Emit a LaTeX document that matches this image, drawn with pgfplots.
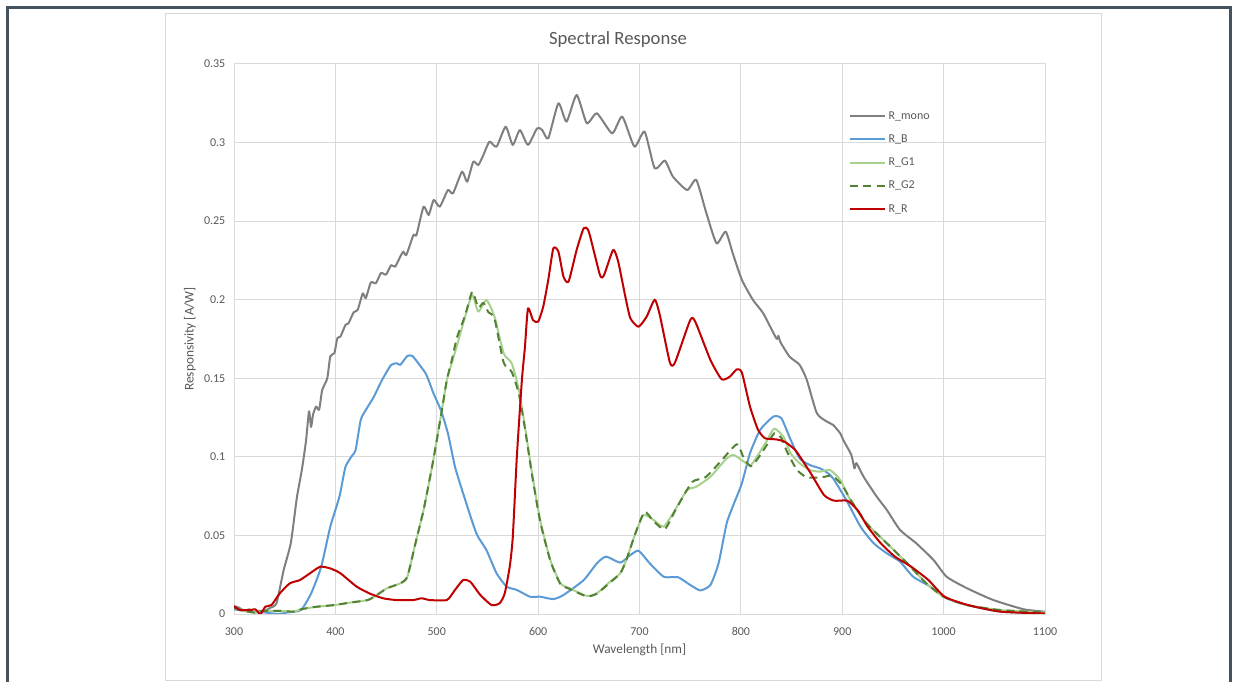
\documentclass[border=0pt]{standalone}
\usepackage{fontspec}
\setmainfont{Carlito}
\usepackage{pgfplots}
\pgfplotsset{compat=1.18}
\definecolor{txt}{HTML}{595959}
\definecolor{gridc}{HTML}{D9D9D9}
\definecolor{frame}{HTML}{45535E}
\definecolor{cmono}{HTML}{7F7F7F}
\definecolor{cblue}{HTML}{5B9BD5}
\definecolor{cg1}{HTML}{A9D18E}
\definecolor{cg2}{HTML}{548235}
\definecolor{cred}{HTML}{C00000}
\begin{document}
\begin{tikzpicture}
\useasboundingbox (0,0) rectangle (929.25bp,511.5bp);
\fill[white] (0,0) rectangle (929.25bp,511.5bp);
\draw[frame, line width=2.25bp] (5.6bp,-10bp) -- (5.6bp,505.5bp) -- (922.9bp,505.5bp) -- (922.9bp,-10bp);
\draw[gridc, line width=0.75bp] (123.75bp,1.5bp) rectangle (825.75bp,501bp);
\node[txt, font=\fontsize{14bp}{16bp}\selectfont] at (463.5bp,482.2bp) {Spectral Response};
\begin{axis}[
  at={(175.5bp,51bp)}, anchor=south west,
  scale only axis, width=608.25bp, height=412.5bp,
  xmin=300, xmax=1100, ymin=0, ymax=0.35,
  xtick={300,400,500,600,700,800,900,1000,1100},
  xticklabels={300,400,500,600,700,800,900,1000,1100},
  ytick={0,0.05,0.1,0.15,0.2,0.25,0.3,0.35},
  yticklabels={0,0.05,0.1,0.15,0.2,0.25,0.3,0.35},
  major tick length=0pt,
  grid=major,
  major grid style={gridc, line width=0.75bp},
  axis line style={gridc, line width=0.75bp},
  tick label style={txt, font=\fontsize{9bp}{11bp}\selectfont},
  xticklabel style={yshift=-6.5bp},
  yticklabel style={xshift=-3bp},
  xlabel={Wavelength [nm]},
  ylabel={Responsivity [A/W]},
  label style={txt, font=\fontsize{10bp}{12bp}\selectfont},
  xlabel style={at={(axis description cs:0.5,-0.0655)}, anchor=center},
  ylabel style={at={(axis description cs:-0.0543,0.5)}, anchor=center},
  legend style={at={(rel axis cs:0.753,0.923)}, anchor=north west, draw=none, fill=none,
    font=\fontsize{9bp}{11bp}\selectfont, text=txt,
    nodes={inner sep=1bp, text height=6.5bp, text depth=2bp}, row sep=6.9bp, column sep=1bp},
  legend cell align=left,
  legend image code/.code={\draw[#1] (0bp,0bp) -- (26.25bp,0bp);},
  every axis plot/.append style={line width=1.5bp, line join=round, smooth, tension=0.35},
]
% R_mono
\addplot[cmono] coordinates {
(300,0.005)(305,0.004)(310,0.002)(315,0.003)(320,0.001)(325,0.002)(330,0.002)(336,0.004)
(342,0.007)(349,0.028)(356,0.045)(362,0.074)(367,0.092)(371,0.110)(374,0.129)(376,0.119)
(378,0.127)(381,0.132)(384,0.130)(387,0.1425)(392,0.150)(395,0.164)(399,0.166)(402,0.1756)
(405,0.1765)(410,0.184)(413,0.185)(418,0.192)(422,0.1935)(427,0.204)(430,0.201)(435,0.211)
(440,0.2105)(445,0.217)(450,0.216)(455,0.222)(459,0.221)(464,0.2274)(467,0.2306)(470,0.2285)
(477,0.2412)(480,0.2412)(487,0.2592)(492,0.2539)(497,0.2635)(503,0.2592)(511,0.2698)(516,0.2677)
(525,0.2815)(530,0.2751)(536,0.2878)(541,0.2857)(546,0.2921)(552,0.3006)(559,0.2974)(568,0.3101)
(575,0.2985)(582,0.308)(590,0.2985)(599,0.3091)(604,0.308)(610,0.3027)(620,0.325)(628,0.3133)
(638,0.3303)(648,0.3123)(658,0.3186)(673,0.3059)(683,0.3165)(695,0.2974)(705,0.307)(715,0.2836)
(725,0.2885)(733,0.2783)(747,0.2698)(756,0.2762)(766,0.255)(776,0.2359)(785,0.2433)(792,0.2295)
(801,0.2126)(812,0.1998)(822,0.1914)(835,0.1754)(837,0.1770)(839,0.1730)(848,0.1638)(858,0.1585)
(865,0.149)(875,0.1277)(885,0.1224)(891,0.1203)(898,0.115)(901,0.1107)(909,0.1012)(912,0.0927)
(914,0.096)(921,0.0874)(934,0.0747)(944,0.0662)(957,0.0535)(973,0.045)(990,0.0344)(1003,0.0237)
(1023,0.0164)(1049,0.0089)(1079,0.0030)(1100,0.0015)
};
\addlegendentry{R\_mono}
% R_B
\addplot[cblue] coordinates {
(300,0.003)(310,0.002)(320,0.001)(330,0.001)(343,0.000)(353,0.001)(366,0.0025)(376,0.013)
(386,0.030)(395,0.0556)(404,0.0747)(410,0.0937)(417,0.1012)(420,0.1044)(425,0.1235)(430,0.1298)
(438,0.1383)(446,0.1489)(455,0.1585)(461,0.1595)(464,0.1585)(471,0.1642)(476,0.1642)(483,0.1585)
(489,0.1532)(493,0.147)(497,0.140)(504,0.1298)(511,0.115)(518,0.0937)(526,0.0768)(539,0.0514)
(549,0.0407)(559,0.0259)(569,0.0174)(579,0.0153)(592,0.011)(602,0.011)(615,0.0095)(625,0.0121)
(645,0.0216)(658,0.0323)(667,0.0365)(681,0.0327)(690,0.037)(699,0.0403)(710,0.0323)(724,0.0237)
(738,0.0234)(750,0.0185)(760,0.0150)(770,0.0185)(778,0.0323)(786,0.0577)(793,0.0700)(801,0.0832)
(809,0.1023)(819,0.1171)(832,0.1256)(840,0.1245)(849,0.1110)(858,0.099)(868,0.0948)(878,0.0927)
(885,0.090)(891,0.0863)(904,0.0725)(918,0.0556)(931,0.045)(944,0.0386)(957,0.0333)(970,0.0237)
(987,0.0174)(1003,0.010)(1023,0.0057)(1056,0.0015)(1100,0.0005)
};
\addlegendentry{R\_B}
% R_G1
\addplot[cg1] coordinates {
(300,0.004)(310,0.002)(320,0.001)(330,0.002)(345,0.002)(359,0.0015)(366,0.003)(380,0.0045)
(399,0.0057)(415,0.0073)(432,0.0089)(441,0.0121)(451,0.0164)(464,0.0195)(471,0.0237)(479,0.045)
(487,0.0662)(496,0.0959)(504,0.1256)(510,0.149)(515,0.1600)(521,0.1733)(528,0.1892)(535,0.2030)
(541,0.1924)(549,0.1998)(557,0.1892)(566,0.1659)(574,0.1595)(581,0.1426)(587,0.1192)(594,0.0895)
(602,0.0598)(612,0.0344)(622,0.0195)(631,0.0164)(648,0.0115)(658,0.0132)(671,0.0206)(681,0.0259)
(687,0.0344)(696,0.0514)(704,0.063)(714,0.0598)(724,0.0556)(737,0.0683)(747,0.0789)(756,0.081)
(770,0.0874)(786,0.099)(793,0.1012)(803,0.0969)(810,0.0948)(819,0.1033)(826,0.1107)(833,0.118)
(842,0.1128)(849,0.1023)(858,0.0959)(868,0.0916)(878,0.0906)(888,0.0916)(898,0.0853)(908,0.0725)
(924,0.0577)(944,0.045)(964,0.0323)(983,0.0195)(1000,0.011)(1023,0.0057)(1056,0.0025)(1100,0.001)
};
\addlegendentry{R\_G1}
% R_G2
\addplot[cg2, dash pattern=on 6bp off 4bp] coordinates {
(300,0.004)(310,0.002)(320,0.001)(330,0.002)(345,0.002)(359,0.0015)(366,0.003)(380,0.0045)
(399,0.0057)(415,0.0073)(432,0.0089)(441,0.0121)(451,0.0164)(464,0.0195)(471,0.0237)(479,0.045)
(487,0.0662)(496,0.0959)(504,0.1256)(510,0.149)(515,0.1620)(520,0.176)(528,0.190)(535,0.205)
(541,0.195)(546,0.198)(551,0.192)(557,0.188)(566,0.160)(574,0.154)(581,0.140)(587,0.118)(594,0.0885)
(602,0.0590)(612,0.0340)(622,0.0190)(631,0.0160)(648,0.0112)(658,0.0130)(671,0.0200)(681,0.0259)
(687,0.0344)(696,0.0514)(705,0.065)(714,0.059)(725,0.054)(737,0.068)(752,0.084)(765,0.087)
(780,0.097)(796,0.108)(803,0.099)(810,0.094)(819,0.101)(826,0.108)(833,0.115)(840,0.112)(845,0.104)
(855,0.092)(865,0.087)(880,0.087)(890,0.088)(900,0.082)(908,0.073)
(924,0.0577)(944,0.045)(964,0.0323)(983,0.0195)(1000,0.011)(1023,0.0057)(1056,0.0025)(1100,0.001)
};
\addlegendentry{R\_G2}
% R_R
\addplot[cred] coordinates {
(300,0.005)(306,0.0025)(316,0.0025)(321,0.003)(326,0.000)(331,0.0047)(337,0.0057)(345,0.013)
(355,0.0195)(365,0.0216)(375,0.0259)(385,0.0301)(395,0.029)(405,0.0259)(421,0.0174)(434,0.013)
(447,0.010)(460,0.0089)(477,0.0089)(485,0.010)(493,0.0089)(510,0.0089)(518,0.0153)(526,0.0216)
(533,0.0206)(543,0.0121)(554,0.0057)(562,0.0068)(567,0.013)(572,0.0301)(575,0.049)(579,0.100)
(584,0.149)(587,0.170)(590,0.1945)(595,0.187)(600,0.186)(605,0.1955)(610,0.2126)(615,0.2327)
(620,0.2306)(625,0.2147)(630,0.2115)(638,0.2317)(645,0.2455)(650,0.2433)(661,0.2157)(665,0.2157)
(674,0.2317)(679,0.2242)(686,0.202)(691,0.1882)(699,0.1828)(707,0.1892)(715,0.200)(720,0.1903)
(730,0.160)(735,0.160)(750,0.187)(755,0.186)(770,0.1616)(781,0.1494)(789,0.151)(796,0.1557)
(801,0.1536)(809,0.132)(817,0.1171)(824,0.1118)(835,0.1111)(843,0.1097)(852,0.1054)(856,0.1023)
(869,0.0895)(882,0.0757)(892,0.0721)(905,0.0721)(915,0.0662)(925,0.0556)(938,0.045)(952,0.0365)
(968,0.0301)(985,0.0216)(1001,0.011)(1024,0.0057)(1056,0.0015)(1100,0.0003)
};
\addlegendentry{R\_R}
\end{axis}
\end{tikzpicture}
\end{document}
